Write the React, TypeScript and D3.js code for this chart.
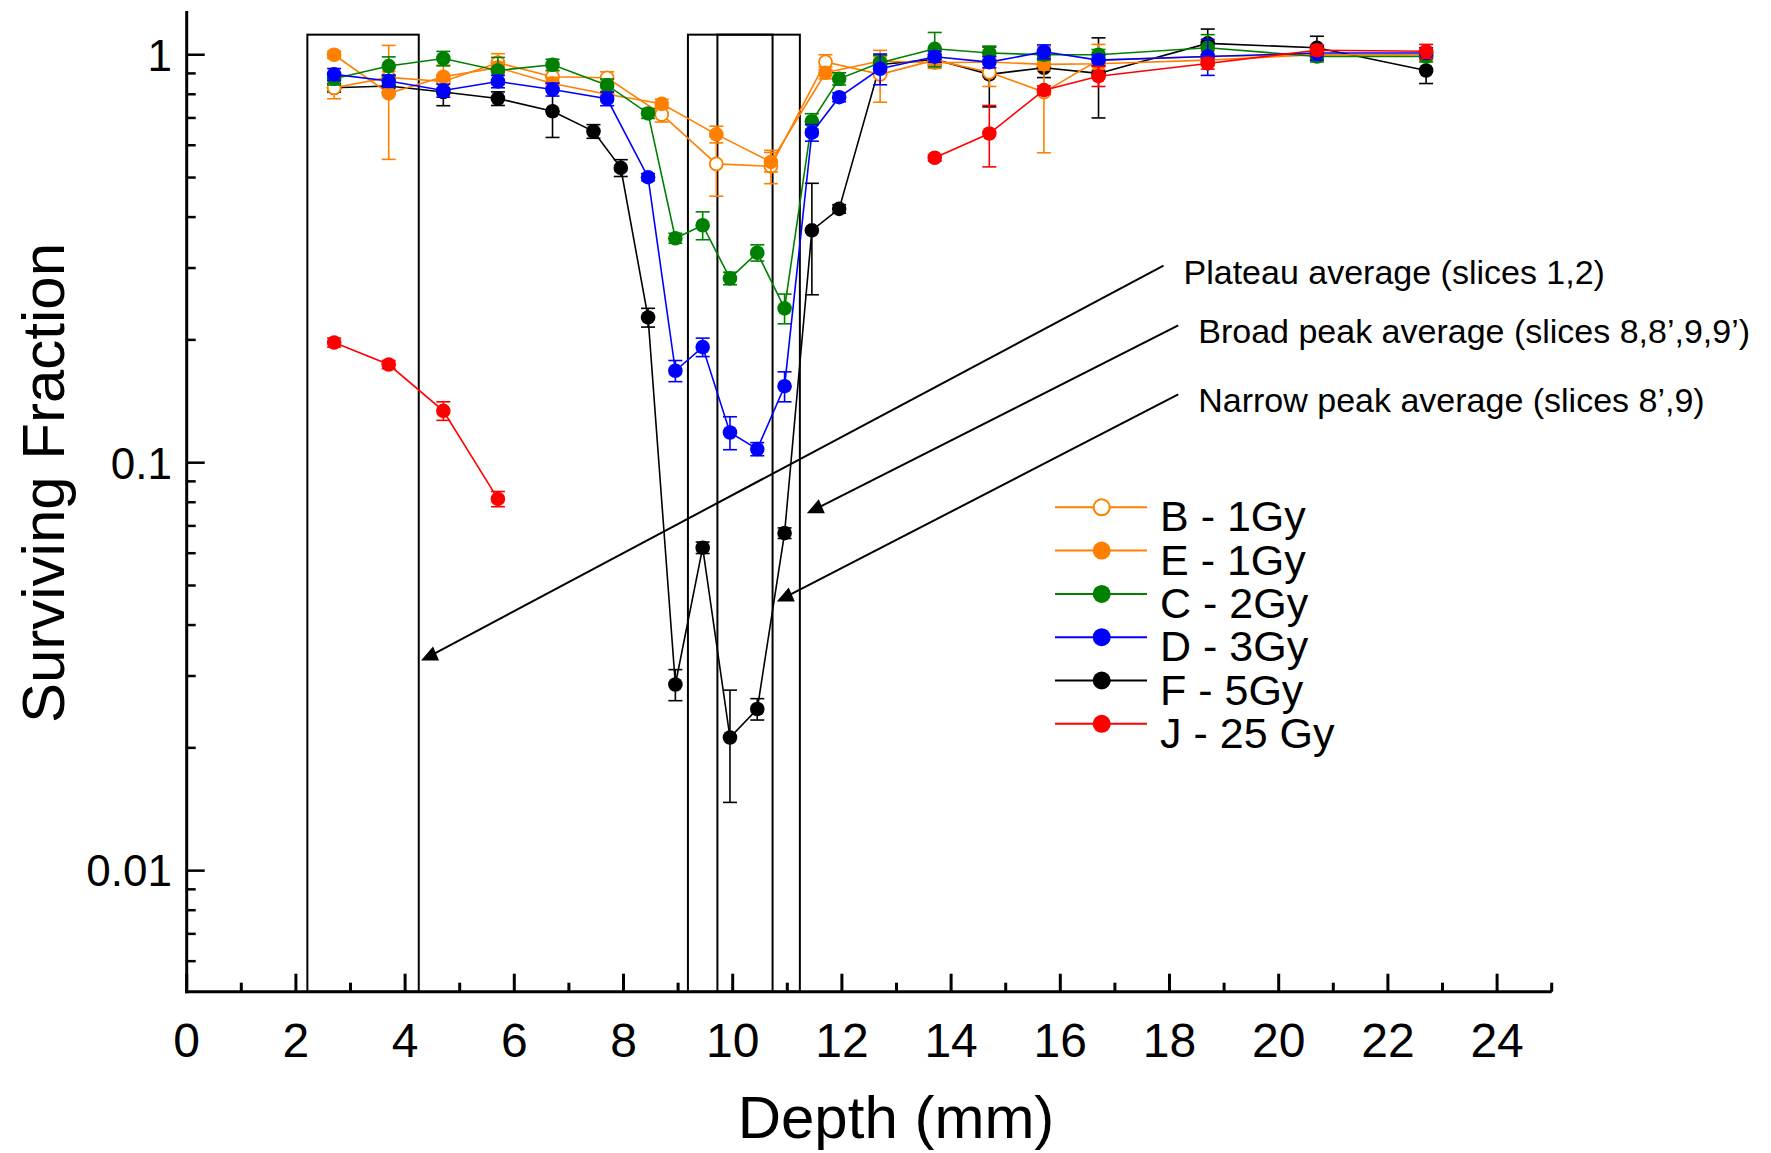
import * as d3 from 'd3';

// depth (mm) of each slice
const depthsBE = [2.7, 3.7, 4.7, 5.7, 6.7, 7.7, 8.7, 9.7, 10.7, 11.7, 12.7, 13.7, 14.7, 15.7, 16.7, 18.7, 20.7, 22.7];
const depthsCD = [2.7, 3.7, 4.7, 5.7, 6.7, 7.7, 8.45, 8.95, 9.45, 9.95, 10.45, 10.95, 11.45, 11.95, 12.7, 13.7, 14.7, 15.7, 16.7, 18.7, 20.7, 22.7];
const depthsF = [2.7, 3.7, 4.7, 5.7, 6.7, 7.45, 7.95, 8.45, 8.95, 9.45, 9.95, 10.45, 10.95, 11.45, 11.95, 12.7, 13.7, 14.7, 15.7, 16.7, 18.7, 20.7, 22.7];
const depthsJ = [2.7, 3.7, 4.7, 5.7, 6.7, 13.7, 14.7, 15.7, 16.7, 18.7, 20.7, 22.7];

// surviving fraction and error
const sfB = [0.83, 0.88, 0.86, 0.956, 0.883, 0.878, 0.714, 0.54, 0.533, 0.96, 0.895, 0.97, 0.906, 0.81, 0.97, 0.99, 1.0, 1.0];
const errB = [0.05, 0.03, 0.03, 0.05, 0.03, 0.03, 0.03, 0.09, 0.05, 0.04, 0.13, 0.03, 0.07, 0.235, 0.09, 0.03, 0.03, 0.03];
const sfE = [1.0, 0.804, 0.883, 0.93, 0.85, 0.8, 0.758, 0.638, 0.546, 0.903, 0.965, 0.956, 0.96, 0.947, 0.95, 0.97, 1.0, 1.0];
const errE = [0.02, 0.25, 0.06, 0.03, 0.03, 0.03, 0.02, 0.03, 0.03, 0.03, 0.03, 0.03, 0.03, 0.03, 0.03, 0.03, 0.03, 0.03];
const sfC = [0.873, 0.938, 0.979, 0.915, 0.945, 0.842, 0.718, 0.355, 0.382, 0.283, 0.327, 0.239, 0.687, 0.873, 0.956, 1.034, 1.01, 1.0, 1.0, 1.04, 0.99, 0.99];
const errC = [0.03, 0.05, 0.04, 0.07, 0.03, 0.03, 0.02, 0.01, 0.03, 0.01, 0.015, 0.02, 0.03, 0.03, 0.04, 0.1, 0.04, 0.03, 0.03, 0.08, 0.03, 0.03];
const sfD = [0.895, 0.862, 0.817, 0.86, 0.822, 0.78, 0.501, 0.168, 0.192, 0.1186, 0.108, 0.154, 0.644, 0.787, 0.924, 0.989, 0.959, 1.017, 0.97, 0.99, 1.01, 1.01];
const errD = [0.03, 0.03, 0.03, 0.03, 0.03, 0.03, 0.01, 0.01, 0.01, 0.011, 0.004, 0.013, 0.03, 0.02, 0.08, 0.03, 0.03, 0.04, 0.03, 0.1, 0.04, 0.03];
const sfF = [0.83, 0.838, 0.81, 0.781, 0.727, 0.649, 0.528, 0.227, 0.0286, 0.0619, 0.0212, 0.0249, 0.0672, 0.371, 0.419, 0.946, 0.974, 0.895, 0.929, 0.9, 1.066, 1.04, 0.915];
const errF = [0.02, 0.03, 0.06, 0.03, 0.1, 0.025, 0.025, 0.012, 0.0025, 0.002, 0.0065, 0.0015, 0.002, 0.113, 0.01, 0.05, 0.03, 0.15, 0.05, 0.2, 0.09, 0.07, 0.065];
const sfJ = [0.197, 0.174, 0.134, 0.0815, null, 0.559, 0.641, 0.819, 0.886, 0.952, 1.026, 1.02];
const errJ = [0.005, 0.004, 0.007, 0.0035, 0, 0.01, 0.11, 0.02, 0.05, 0.03, 0.03, 0.04];

const xTicks = [0, 2, 4, 6, 8, 10, 12, 14, 16, 18, 20, 22, 24];
const yTicks = [1, 0.1, 0.01];
const yTickLabels = ['1', '0.1', '0.01'];

// slice boxes in mm
const boxes = [[2.21, 4.25], [9.18, 11.23], [9.72, 10.73]];

const notes = [
  { text: 'Plateau average (slices 1,2)', from: [17.89, 0.304], to: [4.475, 0.0337] },
  { text: 'Broad peak average (slices 8,8\u2019,9,9\u2019)', from: [18.16, 0.217], to: [11.54, 0.0773] },
  { text: 'Narrow peak average (slices 8\u2019,9)', from: [18.16, 0.147], to: [10.99, 0.047] },
];

type Series = { label: string; color: string; open: boolean; depths: number[]; values: (number | null)[]; err: number[] };

const series: Record<string, Series> = {
  B: { label: 'B - 1Gy', color: '#ff8000', open: true, depths: depthsBE, values: sfB, err: errB },
  E: { label: 'E - 1Gy', color: '#ff8000', open: false, depths: depthsBE, values: sfE, err: errE },
  C: { label: 'C - 2Gy', color: '#008000', open: false, depths: depthsCD, values: sfC, err: errC },
  D: { label: 'D - 3Gy', color: '#0000ff', open: false, depths: depthsCD, values: sfD, err: errD },
  F: { label: 'F - 5Gy', color: '#000000', open: false, depths: depthsF, values: sfF, err: errF },
  J: { label: 'J - 25 Gy', color: '#ff0000', open: false, depths: depthsJ, values: sfJ, err: errJ },
};
const legendOrder = ['B', 'E', 'C', 'D', 'F', 'J'];
const drawOrder = ['F', 'B', 'E', 'C', 'D', 'J'];

const W = 1771;
const H = 1153;
const X0 = 186.7;
const X1 = 1551.7;
const YB = 991.7;
const YT = 11;
const FONT = 'Liberation Sans, Arial, Helvetica, sans-serif';

const x = d3.scaleLinear().domain([0, 25]).range([X0, X1]);
const y = d3.scaleLog().domain([0.00505, 1.28]).range([YB, YT]);

const yMinor: number[] = [];
[0.001, 0.01, 0.1].forEach((dec) => {
  for (let k = 2; k <= 9; k++) {
    const v = dec * k;
    if (v >= 0.00505 && v <= 1.28) yMinor.push(v);
  }
});
const xMinor = d3.range(1, 26, 2);

export default function App() {
  const line = d3
    .line<[number, number | null]>()
    .defined((d) => d[1] != null)
    .x((d) => x(d[0]))
    .y((d) => y(d[1] as number));

  return (
    <svg width={W} height={H} style={{ position: 'absolute', left: 0, top: 0, background: '#fff' }} fontFamily={FONT}>
      {/* slice boxes */}
      {boxes.map(([a, b], i) => (
        <rect key={i} x={x(a)} y={y(1.12)} width={x(b) - x(a)} height={YB - y(1.12)} fill="none" stroke="#000" strokeWidth={2} />
      ))}

      {/* series */}
      {drawOrder.map((k) => {
        const s = series[k];
        const pts = s.depths.map((d, i) => [d, s.values[i]] as [number, number | null]);
        return (
          <g key={k}>
            <path d={line(pts) || ''} fill="none" stroke={s.color} strokeWidth={1.6} />
            {pts.map(([d, v], i) => {
              if (v == null) return null;
              const e = s.err[i];
              const cx = x(d);
              const yt = y(v + e);
              const yb = y(Math.max(v - e, 0.0052));
              return (
                <g key={i}>
                  {e > 0 && (
                    <g stroke={s.color} strokeWidth={1.6}>
                      <line x1={cx} x2={cx} y1={yt} y2={yb} />
                      <line x1={cx - 7} x2={cx + 7} y1={yt} y2={yt} />
                      <line x1={cx - 7} x2={cx + 7} y1={yb} y2={yb} />
                    </g>
                  )}
                  <circle cx={cx} cy={y(v)} r={s.open ? 6.5 : 7.3} fill={s.open ? '#fff' : s.color} stroke={s.open ? s.color : 'none'} strokeWidth={1.8} />
                </g>
              );
            })}
          </g>
        );
      })}

      {/* annotations */}
      {notes.map((n, i) => {
        const sx = x(n.from[0]);
        const sy = y(n.from[1]);
        const tx = x(n.to[0]);
        const ty = y(n.to[1]);
        return (
          <g key={i}>
            <line x1={sx} y1={sy} x2={tx} y2={ty} stroke="#000" strokeWidth={2} />
            <path d={`M${tx - 10},${ty + 5}L${tx + 2},${ty - 9}L${tx + 8},${ty + 5}Z`} fill="#000" />
            <text x={sx + 20} y={sy + 18} fontSize={34} fill="#000">{n.text}</text>
          </g>
        );
      })}

      {/* axes */}
      <line x1={X0} x2={X0} y1={YT} y2={YB + 1.5} stroke="#000" strokeWidth={3} />
      <line x1={X0 - 1.5} x2={X1} y1={YB} y2={YB} stroke="#000" strokeWidth={3} />
      {xTicks.map((t) => (
        <g key={t}>
          <line x1={x(t)} x2={x(t)} y1={YB} y2={YB - 18} stroke="#000" strokeWidth={3} />
          <text x={x(t)} y={1057} fontSize={48} textAnchor="middle">{t}</text>
        </g>
      ))}
      {xMinor.map((t) => (
        <line key={t} x1={x(t)} x2={x(t)} y1={YB} y2={YB - 9} stroke="#000" strokeWidth={3} />
      ))}
      {yTicks.map((t, i) => (
        <g key={t}>
          <line x1={X0} x2={X0 + 18} y1={y(t)} y2={y(t)} stroke="#000" strokeWidth={2.5} />
          <text x={172} y={y(t)} dy="0.36em" fontSize={44} textAnchor="end">{yTickLabels[i]}</text>
        </g>
      ))}
      {yMinor.map((t) => (
        <line key={t} x1={X0} x2={X0 + 9} y1={y(t)} y2={y(t)} stroke="#000" strokeWidth={2.5} />
      ))}
      <text x={896} y={1138} fontSize={60} textAnchor="middle">Depth (mm)</text>
      <text transform="translate(64,483) rotate(-90)" fontSize={60} textAnchor="middle">Surviving Fraction</text>

      {/* legend */}
      {legendOrder.map((k, i) => {
        const s = series[k];
        const ry = 507.3 + i * 43.3;
        return (
          <g key={k}>
            <line x1={1055} x2={1147} y1={ry} y2={ry} stroke={s.color} strokeWidth={2} />
            <circle cx={1101.7} cy={ry} r={s.open ? 8 : 9} fill={s.open ? '#fff' : s.color} stroke={s.open ? s.color : 'none'} strokeWidth={2} />
            <text x={1160} y={ry + 24} fontSize={43}>{s.label}</text>
          </g>
        );
      })}
    </svg>
  );
}
